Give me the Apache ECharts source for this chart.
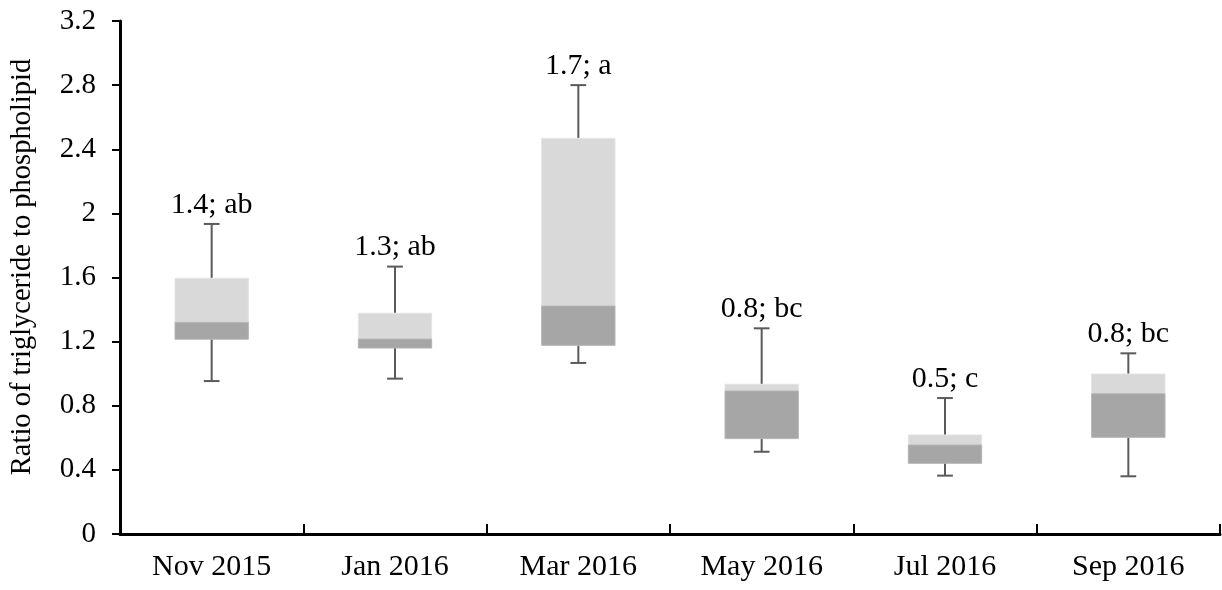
<!DOCTYPE html>
<html>
<head>
<meta charset="utf-8">
<script src="https://cdn.jsdelivr.net/npm/echarts@6/dist/echarts.min.js"></script>
<style>html,body{margin:0;padding:0;background:#fff;}#c{width:1222px;height:590px;}</style>
</head>
<body>
<div id="c"></div>
<script>
var categories = ['Nov 2015', 'Jan 2016', 'Mar 2016', 'May 2016', 'Jul 2016', 'Sep 2016'];
var whiskerLow = [0.954, 0.969, 1.067, 0.513, 0.364, 0.360];
var quartile1  = [1.215, 1.160, 1.177, 0.595, 0.441, 0.603];
var medians    = [1.320, 1.216, 1.422, 0.892, 0.555, 0.875];
var quartile3  = [1.595, 1.377, 2.468, 0.934, 0.618, 0.998];
var whiskerHigh= [1.934, 1.668, 2.800, 1.283, 0.848, 1.127];
var labels = ['1.4; ab', '1.3; ab', '1.7; a', '0.8; bc', '0.5; c', '0.8; bc'];
var yTicks = ['0', '0.4', '0.8', '1.2', '1.6', '2', '2.4', '2.8', '3.2'];
var yTitle = 'Ratio of triglyceride to phospholipid';

var FONT = '"Liberation Serif", "DejaVu Serif", serif';
var data = categories.map(function (c, i) {
  return [i, whiskerLow[i], quartile1[i], medians[i], quartile3[i], whiskerHigh[i]];
});

var chart = echarts.init(document.getElementById('c'), null, {renderer: 'canvas'});
chart.setOption({
  animation: false,
  backgroundColor: '#fff',
  grid: {left: 120, right: 2, top: 21, bottom: 56, containLabel: false, outerBoundsMode: 'none'},
  graphic: [{
    type: 'text',
    x: 23, y: 267,
    rotation: Math.PI / 2,
    style: {text: yTitle, fill: '#000', font: '28.5px ' + FONT, align: 'center', verticalAlign: 'middle'}
  }],
  xAxis: {
    type: 'category',
    data: categories,
    boundaryGap: true,
    axisLine: {lineStyle: {color: '#000', width: 3}},
    axisTick: {show: true, inside: true, length: 10, lineStyle: {color: '#000', width: 2}},
    axisLabel: {color: '#000', fontFamily: FONT, fontSize: 30, margin: 18},
    splitLine: {show: false}
  },
  yAxis: {
    type: 'value',
    min: 0, max: 3.2, interval: 0.4,
    axisLine: {show: true, lineStyle: {color: '#000', width: 3}},
    axisTick: {show: true, length: 8, lineStyle: {color: '#000', width: 2}},
    axisLabel: {
      color: '#000', fontFamily: FONT, fontSize: 29, margin: 24,
      formatter: function (v) {
        var idx = Math.round(v / 0.4);
        return yTicks[idx] !== undefined ? yTicks[idx] : '';
      }
    },
    splitLine: {show: false}
  },
  series: [{
    type: 'custom',
    data: data,
    encode: {x: 0, y: [1, 2, 3, 4, 5]},
    renderItem: function (params, api) {
      var i = api.value(0);
      var lo = api.coord([i, api.value(1)]);
      var q1 = api.coord([i, api.value(2)]);
      var md = api.coord([i, api.value(3)]);
      var q3 = api.coord([i, api.value(4)]);
      var hi = api.coord([i, api.value(5)]);
      var band = api.size([1, 0])[0];
      var bw = band * 0.40;
      var cw = band * 0.086;
      var cx = lo[0];
      var wStyle = {stroke: '#5a5a5a', lineWidth: 2};
      return {
        type: 'group',
        children: [
          {type: 'line', shape: {x1: cx, y1: hi[1], x2: cx, y2: q3[1]}, style: wStyle},
          {type: 'line', shape: {x1: cx, y1: q1[1], x2: cx, y2: lo[1]}, style: wStyle},
          {type: 'line', shape: {x1: cx - cw / 2, y1: hi[1], x2: cx + cw / 2, y2: hi[1]}, style: wStyle},
          {type: 'line', shape: {x1: cx - cw / 2, y1: lo[1], x2: cx + cw / 2, y2: lo[1]}, style: wStyle},
          {type: 'rect', shape: {x: cx - bw / 2, y: q3[1], width: bw, height: md[1] - q3[1]},
            style: {fill: '#d9d9d9', stroke: '#e4e4e4', lineWidth: 1}},
          {type: 'rect', shape: {x: cx - bw / 2, y: md[1], width: bw, height: q1[1] - md[1]},
            style: {fill: '#a6a6a6', stroke: '#b4b4b4', lineWidth: 1}},
          {type: 'text', x: cx, y: hi[1] - 4,
            style: {text: labels[params.dataIndex], fill: '#000', font: '30px ' + FONT,
              align: 'center', verticalAlign: 'bottom'}}
        ]
      };
    }
  }]
});
</script>
</body>
</html>
